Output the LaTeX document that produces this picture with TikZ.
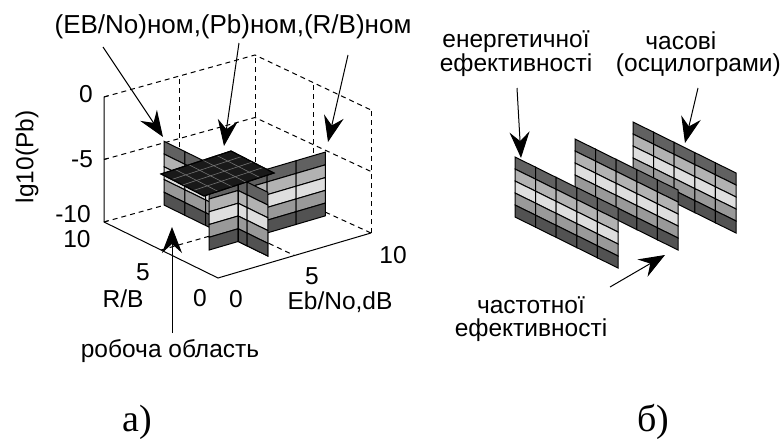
\documentclass[tikz,border=0pt]{standalone}
\usepackage{fontspec}
\setmainfont{Liberation Serif}
\setsansfont{Liberation Sans}
\usepackage{tikz}
\usetikzlibrary{arrows.meta,calc,positioning}

\colorlet{stripeA}{black!62}
\colorlet{stripeB}{black!30}
\colorlet{stripeC}{black!13}
\colorlet{stripeD}{black!40}
\colorlet{stripeE}{black!68}

% striped wall: origin (top left), column vector, stripe vector, number of columns
\newcommand{\stripwall}[4]{%
  \begin{scope}[shift={#1}, x={#2}, y={#3}]
    \foreach \c in {1,...,#4}
      \foreach \s/\col in {1/stripeA,2/stripeB,3/stripeC,4/stripeD,5/stripeE}
        \filldraw[cell, fill=\col] (\c-1,\s-1) -- (\c,\s-1) -- (\c,\s) -- (\c-1,\s) -- cycle;
  \end{scope}}

\begin{document}
\begin{tikzpicture}[x=1pt, y=-1pt,
    lbl/.style={font=\sffamily\fontsize{24.5}{22.5}\selectfont, inner sep=0pt},
    title/.style={font=\sffamily\fontsize{26}{28}\selectfont, inner sep=0pt},
    captext/.style={font=\rmfamily\fontsize{38}{40}\selectfont, inner sep=0pt},
    cell/.style={draw=black, line width=1pt},
    grid/.style={line width=1pt, dash pattern=on 5pt off 4pt},
    axis/.style={line width=1pt},
    plane/.style={fill=black!90, draw=black, line width=1pt},
    planegrid/.style={draw=black!55, line width=0.6pt},
    bigarrow/.style={-{Stealth[length=26pt,width=20pt,inset=9pt]}, line width=1pt}
]
    \useasboundingbox (0,0) rectangle (782,439);

    % Box of the 3D plot
    \coordinate (Lt) at (104,97);
    \coordinate (L) at (104,222);
    \coordinate (F) at (218,278);
    \coordinate (R) at (371,233);
    \coordinate (Rt) at (371,110);
    \coordinate (B) at (255,180);
    \coordinate (Bt) at (255,55);

    \draw[grid] (L) -- (B) -- (R);
    \draw[grid] (Lt) -- (Bt) -- (Rt);
    \draw[grid] ($(L)!.5!(Lt)$) -- ($(B)!.5!(Bt)$) -- ($(R)!.5!(Rt)$);
    \draw[grid] (B) -- (Bt);
    \draw[grid] (R) -- (Rt);
    \draw[grid] ($(L)!.5!(B)$) -- ($(Lt)!.5!(Bt)$);
    \draw[grid] ($(B)!.5!(R)$) -- ($(Bt)!.5!(Rt)$);
    \draw[grid] ($(L)!.5!(B)$) -- ($(F)!.5!(R)$);
    \draw[grid] ($(L)!.5!(F)$) -- ($(B)!.5!(R)$);

    \draw[axis] (Lt) -- (L) -- (F) -- (R);
    \foreach \t in {0,0.5,1}
        \draw[axis] ($(Lt)!\t!(L)$) -- ++(4,-1.2);

    % Walls and working plane
    \stripwall{(164pt,-141.3pt)}{(20.75pt,-10.19pt)}{(0pt,-12.75pt)}{5}
    \stripwall{(209pt,-186.3pt)}{(29.07pt,8.55pt)}{(0pt,-12.75pt)}{4}
    \begin{scope}
        \clip (238.1,176.5) -- (269,191.7) -- (269,257.5) -- (238.1,243) -- cycle;
        \stripwall{(164pt,-141.3pt)}{(20.75pt,-10.19pt)}{(0pt,-12.75pt)}{5}
    \end{scope}
    \draw[cell] (238.1,177.7) -- (238.1,241.5);

    \begin{scope}[shift={(204pt,-196pt)}, x={(14pt,4.6pt)}, y={(-10.75pt,5.5pt)}]
        \filldraw[plane] (0,0) -- (5,0) -- (5,4) -- (0,4) -- cycle;
        \foreach \i in {1,...,4}
            \draw[planegrid] (\i,0) -- (\i,4);
        \foreach \j in {1,2,3}
            \draw[planegrid] (0,\j) -- (5,\j);
        \draw[line width=1pt] (0,0) -- (5,0) -- (5,4) -- (0,4) -- cycle;
    \end{scope}

    % Labels of panel a
    \node[title, anchor=base] (nom) at (233,33) {(EB/No)ном,(Pb)ном,(R/B)ном};
    \node[lbl, rotate=90] (lgp) at (27,157) {lg10(Pb)};
    \node[lbl, anchor=base] (z0) at (86,102) {0};
    \node[lbl, anchor=base] (z5) at (82,167) {-5};
    \node[lbl, anchor=base] (z10) at (73,222) {-10};
    \node[lbl, anchor=base] (r10) at (77,247) {10};
    \node[lbl, anchor=base] (r5) at (143,280) {5};
    \node[lbl, anchor=base] (rb) at (123,307) {R/B};
    \node[lbl, anchor=base] (r0) at (200,306) {0};
    \node[lbl, anchor=base] (e0) at (236,307) {0};
    \node[lbl, anchor=base] (e5) at (312,284) {5};
    \node[lbl, anchor=base] (e10) at (393,263) {10};
    \node[lbl, anchor=base] (eb) at (340,309) {Eb/No,dB};
    \node[lbl, anchor=base] (work) at (170,357) {робоча область};

    \coordinate (fromEb) at (103,47);
    \coordinate (tipEb) at (163,137);
    \coordinate (fromPb) at (239,43);
    \coordinate (tipPb) at (224,146);
    \coordinate (fromRB) at (348,55);
    \coordinate (tipRB) at (328,142);
    \coordinate (fromWork) at (172,333);
    \coordinate (tipWork) at (172,227);
    \draw[bigarrow] (fromEb) -- (tipEb);
    \draw[bigarrow] (fromPb) -- (tipPb);
    \draw[bigarrow] (fromRB) -- (tipRB);
    \draw[bigarrow] (fromWork) -- (tipWork);

    % Panel b walls, back to front
    \foreach \wx/\wy in {633/122, 575/139, 515/157}
        \stripwall{(\wx pt,-\wy pt)}{(20.6pt,-10.2pt)}{(0pt,-12pt)}{5};

    % Labels of panel b
    \node[lbl, align=center] (energy) at (516,54) {енергетичної\\ефективності};
    \node[lbl, align=center, anchor=east] (osc) at (781,54) {часові\hspace*{35pt}\\(осцилограми)};
    \node[lbl, align=center] (freq) at (531,319) {частотної\\ефективності};

    \coordinate (fromEn) at (517,88);
    \coordinate (tipEn) at (521,158);
    \coordinate (fromOsc) at (698,88);
    \coordinate (tipOsc) at (685,143);
    \coordinate (fromFr) at (610,287);
    \coordinate (tipFr) at (665,255);
    \draw[bigarrow] (fromEn) -- (tipEn);
    \draw[bigarrow] (fromOsc) -- (tipOsc);
    \draw[bigarrow] (fromFr) -- (tipFr);

    % Captions
    \node[captext, anchor=base west] (capa) at (122,431) {а)};
    \node[captext, anchor=base west] (capb) at (637,431) {б)};
\end{tikzpicture}
\end{document}
